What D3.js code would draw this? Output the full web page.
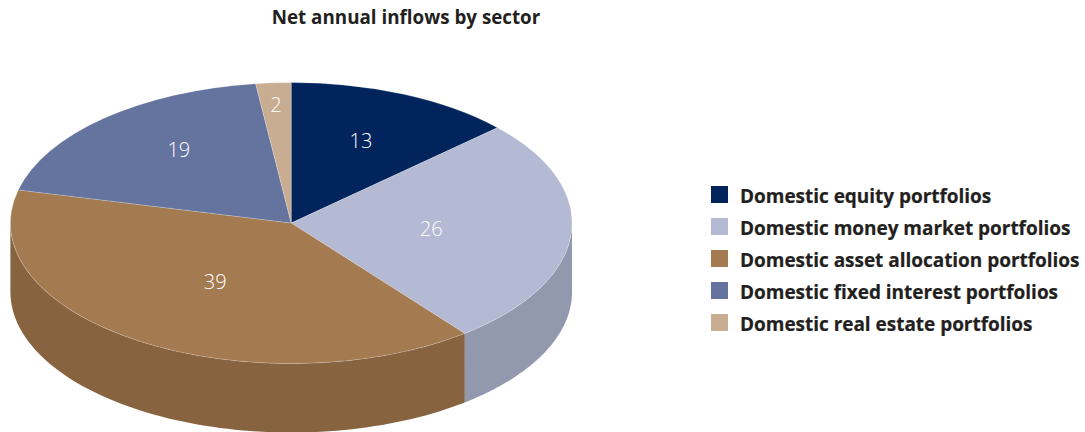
<!DOCTYPE html>
<html>
<head>
<meta charset="utf-8">
<script src="https://cdn.jsdelivr.net/npm/d3@7/dist/d3.min.js"></script>
<style>
  html, body { margin: 0; padding: 0; background: #fff; }
  svg { display: block; }
  text { font-family: "Open Sans", "Noto Sans", sans-serif; }
</style>
</head>
<body>
<svg id="chart" width="1085" height="432"></svg>
<script>
const chartTitle = "Net annual inflows by sector";
const sectors = [
  "Domestic equity portfolios",
  "Domestic money market portfolios",
  "Domestic asset allocation portfolios",
  "Domestic fixed interest portfolios",
  "Domestic real estate portfolios"
];
const shares = [13, 26, 39, 19, 2];
const topColours = ["#00245b", "#b4b9d4", "#a47a50", "#64749e", "#c8ad93"];
const wallColours = ["#001c47", "#9299ae", "#876340", "#505d7f", "#a08a75"];

const cx = 291.2, cy = 223, rx = 280.8, ry = 140.5, depth = 69;

const svg = d3.select("#chart");

svg.append("text")
  .attr("x", 406).attr("y", 24)
  .attr("text-anchor", "middle")
  .attr("font-size", 18.8).attr("font-weight", 700)
  .attr("fill", "#231f20")
  .text(chartTitle);

const slices = d3.pie().sort(null).value(d => d)(shares)
  .map((s, i) => ({ ...s, i }));

// Clockwise angle from twelve o'clock onto the flattened ellipse.
const rimX = a => cx + rx * Math.sin(a);
const rimY = a => cy - ry * Math.cos(a);

// Only the part of the rim on the near side (90° to 270°) shows a wall.
const wallLine = d3.line();
const walls = svg.append("g");
slices.forEach(s => {
  const a0 = Math.max(s.startAngle, Math.PI / 2);
  const a1 = Math.min(s.endAngle, Math.PI * 1.5);
  if (a1 <= a0) return;
  const steps = d3.range(0, 81).map(k => a0 + (a1 - a0) * k / 80);
  const upper = steps.map(a => [rimX(a), rimY(a)]);
  const lower = steps.slice().reverse().map(a => [rimX(a), rimY(a) + depth]);
  walls.append("path")
    .attr("d", wallLine(upper.concat(lower)) + "Z")
    .attr("fill", wallColours[s.i]);
});

// Top face: a circular pie squashed vertically into the ellipse.
const arc = d3.arc().innerRadius(0).outerRadius(rx);
svg.append("g")
  .attr("transform", `translate(${cx},${cy}) scale(1,${ry / rx})`)
  .selectAll("path")
  .data(slices)
  .join("path")
  .attr("d", arc)
  .attr("fill", d => topColours[d.i])
  .attr("stroke", "#fff")
  .attr("stroke-opacity", 0.35)
  .attr("stroke-width", 0.6)
  .attr("vector-effect", "non-scaling-stroke");

// Each value label has its own fraction of the radius along the slice's middle.
const labelReachX = [0.62, 0.50, 0.50, 0.60, 0.85];
const labelReachY = [0.64, 0.50, 0.50, 0.70, 0.84];
svg.append("g")
  .selectAll("text")
  .data(slices)
  .join("text")
  .attr("x", d => cx + rx * labelReachX[d.i] * Math.sin((d.startAngle + d.endAngle) / 2))
  .attr("y", d => cy - ry * labelReachY[d.i] * Math.cos((d.startAngle + d.endAngle) / 2) + 7)
  .attr("text-anchor", "middle")
  .attr("font-size", 20)
  .attr("font-weight", 300)
  .attr("fill", "#fff")
  .text(d => d.data);

const rowScale = d3.scalePoint().domain(sectors).range([194.5, 322.5]);
const legend = svg.append("g")
  .selectAll("g")
  .data(sectors)
  .join("g")
  .attr("transform", d => `translate(711,${rowScale(d)})`);
legend.append("rect")
  .attr("y", -8.5).attr("width", 17).attr("height", 17)
  .attr("fill", (d, i) => topColours[i]);
legend.append("text")
  .attr("x", 29).attr("y", 8)
  .attr("font-size", 19).attr("font-weight", 700)
  .attr("letter-spacing", -0.03)
  .attr("fill", "#231f20")
  .attr("stroke", "#231f20")
  .attr("stroke-width", 0.2)
  .text(d => d);
</script>
</body>
</html>
